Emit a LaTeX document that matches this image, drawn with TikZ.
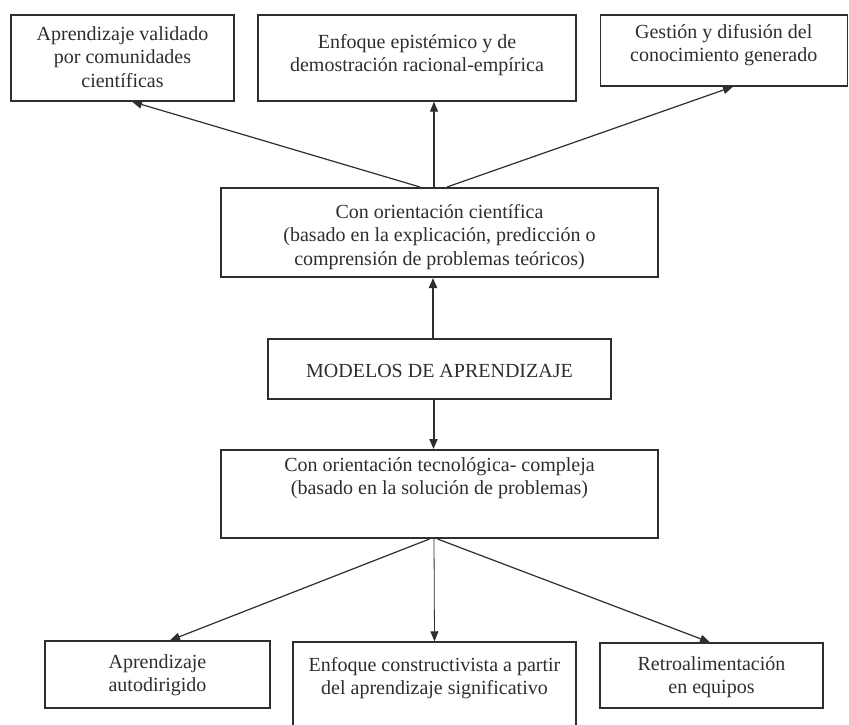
\documentclass[tikz,border=0pt]{standalone}
\usepackage{fontspec}
\setmainfont{Liberation Serif}
\usetikzlibrary{arrows.meta}
\definecolor{ink}{HTML}{2E2E2E}
\tikzset{
  box/.style={draw=ink, line width=1.3pt, inner sep=0pt},
  mainbox/.style={draw=ink, line width=2pt, inner sep=0pt},
  txt/.style={align=center, text=ink, inner sep=0pt, font=\fontsize{20}{23.5}\selectfont},
  conn/.style={draw=ink, line width=1.2pt, -{Triangle[length=10pt,width=8pt]}},
  thickconn/.style={draw=ink, line width=2pt, -{Triangle[length=10pt,width=8pt]}},
  thinconn/.style={draw=ink, line width=0.8pt, -{Triangle[length=10pt,width=8pt]}}
}
\begin{document}
\begin{tikzpicture}[x=1pt,y=-1pt]
\useasboundingbox[fill=white] (0,0) rectangle (849,724);
% boxes
\node[box, minimum width=223pt, minimum height=86pt] (a1) at (122.5,58) {};
\node[box, minimum width=318pt, minimum height=86pt] (a2) at (417,58) {};
\node[box, minimum width=247pt, minimum height=71pt] (a3) at (723.75,50.5) {};
\node[mainbox, minimum width=437pt, minimum height=89pt] (c1) at (439.5,232.5) {};
\node[mainbox, minimum width=343pt, minimum height=60pt] (m) at (439.5,369) {};
\node[mainbox, minimum width=437pt, minimum height=88pt] (c2) at (439.5,494) {};
\node[box, minimum width=225pt, minimum height=67pt] (b1) at (157.5,674.5) {};
\node[box, minimum width=283pt, minimum height=88pt] (b2) at (434.5,686) {};
\node[box, minimum width=223pt, minimum height=65pt] (b3) at (711.5,675.5) {};
% texts
\node[txt] (a1t) at (122.5,57) {Aprendizaje validado\\por comunidades\\científicas};
\node[txt] (a2t) at (417,55) {Enfoque epistémico y de\\demostración racional-empírica};
\node[txt] (a3t) at (723.75,45) {Gestión y difusión del\\conocimiento generado};
\node[txt] (c1t) at (439.5,237) {Con orientación científica\\(basado en la explicación, predicción o\\comprensión de problemas teóricos)};
\node[txt] (mt) at (439.5,371) {MODELOS DE APRENDIZAJE};
\node[txt] (c2t) at (439.5,478) {Con orientación tecnológica- compleja\\(basado en la solución de problemas)};
\node[txt] (b1t) at (157.5,675) {Aprendizaje\\autodirigido};
\node[txt] (b2t) at (434.5,678) {Enfoque constructivista a partir\\del aprendizaje significativo};
\node[txt] (b3t) at (711.5,677) {Retroalimentación\\en equipos};
% connectors upward
\draw[conn] ([xshift=-19.5pt]c1.north) -- ([xshift=9.5pt]a1.south);
\draw[conn] ([xshift=-5.5pt]c1.north) -- ([xshift=17pt]a2.south);
\draw[conn] ([xshift=7.5pt]c1.north) -- ([xshift=9.25pt]a3.south);
\draw[thickconn] ([xshift=-6.5pt]m.north) -- ([xshift=-6.5pt]c1.south);
\draw[thickconn] ([xshift=-6pt]m.south) -- ([xshift=-6pt]c2.north);
% connectors downward
\draw[conn] ([xshift=-10pt]c2.south) -- ([xshift=12.5pt]b1.north);
\draw[thinconn] ([xshift=-5.5pt]c2.south) -- ([xshift=0pt]b2.north);
\draw[conn] ([xshift=-2pt]c2.south) -- ([xshift=-1.5pt]b3.north);
\end{tikzpicture}
\end{document}
